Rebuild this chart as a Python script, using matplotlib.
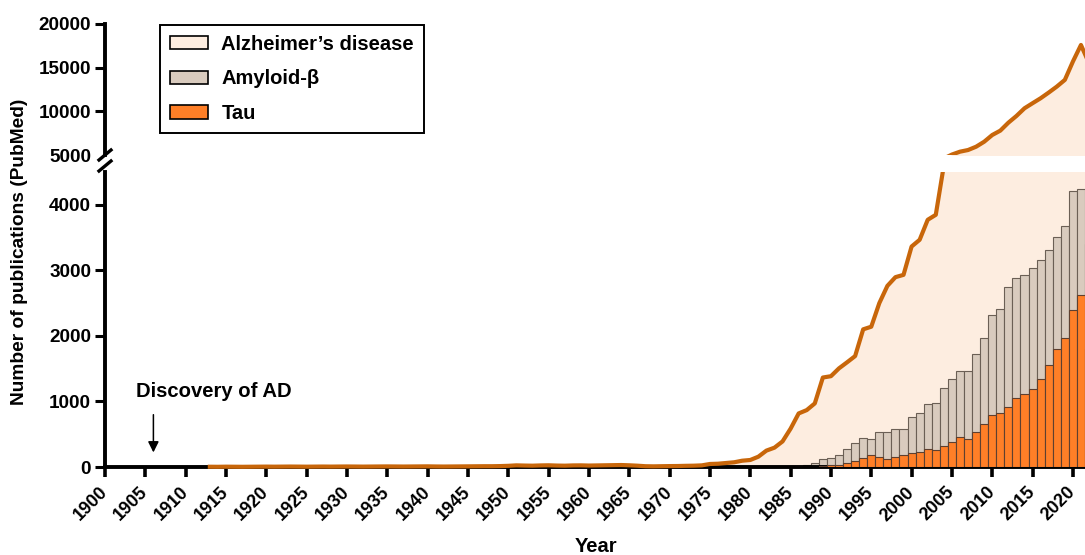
import numpy as np
import matplotlib.pyplot as plt
from matplotlib.patches import Patch, Rectangle
from matplotlib.lines import Line2D

plt.rcParams['font.family'] = ['Liberation Sans', 'DejaVu Sans']
plt.rcParams['font.weight'] = 'bold'

# PubMed hits per year
ad_years = np.arange(1913, 2023)
ad_counts = [4, 3, 5, 4, 3, 4, 5, 6, 5, 6, 7, 6, 5, 6, 7, 6, 7,
             8, 7, 6, 7, 8, 9, 8, 7, 8, 9, 10, 8, 7, 8, 9, 10, 11, 12, 12, 14,
             18, 25, 22, 20, 24, 26, 22, 20, 24, 25, 22, 24, 26, 28, 30, 26, 20,
             12, 10, 12, 14, 15, 18, 20, 25,
             46, 50, 61, 72, 96, 107, 157, 250, 295, 390,
             585, 817, 868, 970, 1365, 1385, 1505, 1597, 1692, 2100,
             2140, 2500, 2763, 2896, 2931, 3363, 3466, 3771, 3847, 4600,
             5050, 5380, 5570, 5950, 6520, 7290, 7790, 8700, 9470, 10350,
             10930, 11500, 12150, 12830, 13600, 15700, 17600, 15500]

bar_years = np.arange(1986, 2023)
amyloid = [0, 25, 55, 125, 135, 180, 280, 370, 440, 430,
           540, 540, 580, 580, 770, 826, 960, 970, 1207, 1335,
           1461, 1461, 1720, 1974, 2325, 2412, 2745, 2887, 2933, 3040,
           3151, 3313, 3506, 3673, 4206, 4242, 3400]
tau = [0, 0, 5, 15, 25, 35, 65, 95, 130, 180,
       150, 125, 160, 180, 220, 228, 274, 264, 325, 376,
       463, 426, 533, 650, 800, 818, 920, 1055, 1106, 1197,
       1339, 1552, 1795, 1968, 2390, 2618, 1800]

fill_c = '#FDEDE0'
line_c = '#C8660A'
amy_c = '#D9CBBE'
tau_c = '#FF7F27'

W, H = 1085, 555
fig = plt.figure(figsize=(W / 100, H / 100), dpi=100)
left = 105 / W
ax_top = fig.add_axes([left, (H - 155) / H, 1 - left, 131 / H])
ax_bot = fig.add_axes([left, (H - 467) / H, 1 - left, 295 / H])

for ax in (ax_top, ax_bot):
    ax.fill_between(ad_years, 0, ad_counts, color=fill_c, lw=0, zorder=1)
    ln, = ax.plot(ad_years, ad_counts, color=line_c, lw=3.0, zorder=4,
                  solid_joinstyle='round')
    ax.set_xlim(1900, 2021.5)
    for s in ('top', 'right'):
        ax.spines[s].set_visible(False)
    ax.spines['left'].set_linewidth(2.8)
    ax.spines['bottom'].set_linewidth(2.8)
    ax.tick_params(axis='y', length=7, width=2.2, labelsize=13.6, pad=3)
    ax.tick_params(axis='x', length=7, width=2.6, labelsize=13, pad=2)

# keep the near-zero line visible on top of the x axis
ln.set_clip_path(Rectangle((0, -0.05), 1, 1.05, transform=ax_bot.transAxes))

ax_bot.bar(bar_years, amyloid, width=1.0, color=amy_c, edgecolor='#6b5f55',
           lw=0.8, zorder=2)
ax_bot.bar(bar_years, tau, width=1.0, color=tau_c, edgecolor='#5e4030',
           lw=0.8, zorder=3)

ax_top.set_ylim(5000, 20000)
ax_top.set_yticks([5000, 10000, 15000, 20000])
ax_top.yaxis.get_major_ticks()[0].tick1line.set_visible(False)
ax_top.spines['bottom'].set_visible(False)
ax_top.set_xticks([])
ax_top.patch.set_alpha(0)

ax_bot.set_ylim(0, 4500)
ax_bot.set_yticks([0, 1000, 2000, 3000, 4000])
ax_bot.set_xticks(np.arange(1900, 2021, 5))
ax_bot.set_xticklabels([str(y) for y in range(1900, 2021, 5)], rotation=45,
                       ha='right', va='center', rotation_mode='anchor')
for lab in ax_bot.get_xticklabels():
    lab.set_y(-0.035)

# break marks on the y axis
for yc in (155, 166):
    fig.add_artist(Line2D([99 / W, 111 / W], [(H - yc - 5) / H, (H - yc + 5) / H],
                          color='black', lw=2.4))

ax_bot.annotate('', xy=(1906, 180), xytext=(1906, 840),
                arrowprops=dict(arrowstyle='-|>', color='black', lw=1.1,
                                mutation_scale=16))
ax_bot.text(1903.8, 1145, 'Discovery of AD', fontsize=14.6, ha='left',
            va='center')

handles = [Patch(facecolor=fill_c, edgecolor='black', lw=1.2),
           Patch(facecolor=amy_c, edgecolor='black', lw=1.2),
           Patch(facecolor=tau_c, edgecolor='black', lw=1.2)]
leg = ax_top.legend(handles, ['Alzheimer’s disease', 'Amyloid-β', 'Tau'],
                    loc='upper left', bbox_to_anchor=(0.056, 0.995),
                    fontsize=14.5, frameon=True, fancybox=False, framealpha=1,
                    edgecolor='black', handlelength=1.9, handleheight=0.65,
                    handletextpad=0.65, labelspacing=0.78, borderpad=0.5,
                    borderaxespad=0)
leg.get_frame().set_linewidth(1.4)

fig.text(20 / W, 1 - 252 / H, 'Number of publications (PubMed)', rotation=90,
         ha='center', va='center', fontsize=13.8)
fig.text(596 / W, 1 - 546 / H, 'Year', ha='center', va='center', fontsize=14.5)

fig.savefig('out.png', dpi=100)
